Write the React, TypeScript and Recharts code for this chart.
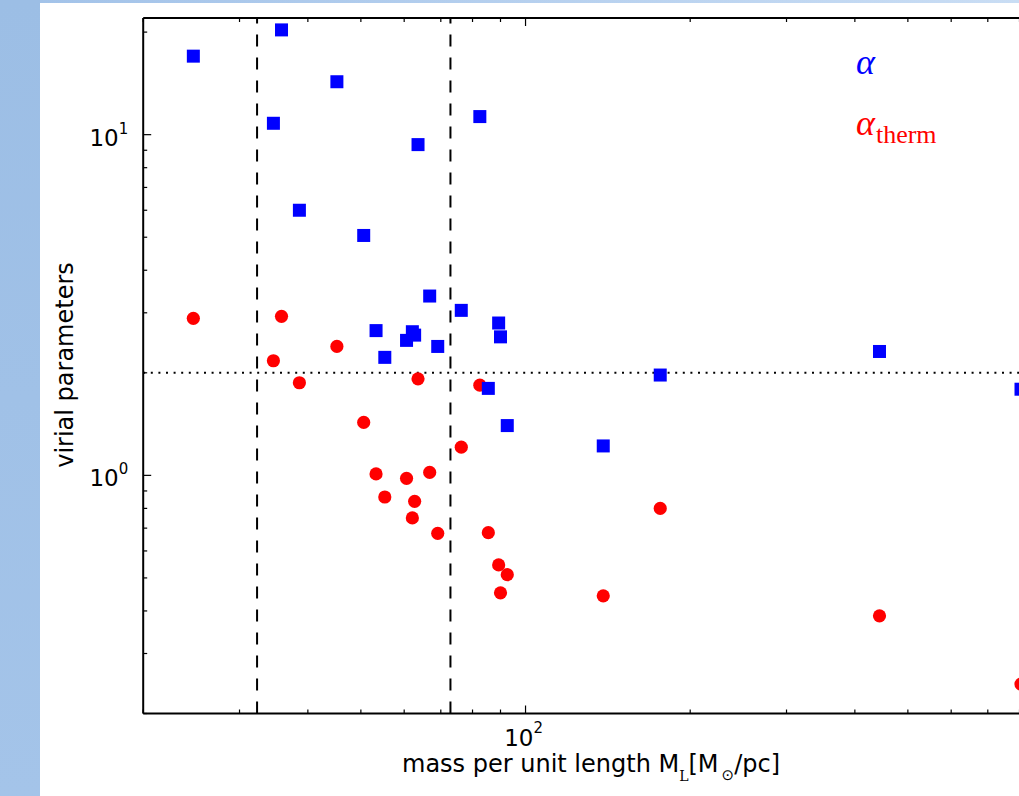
import { ScatterChart, Scatter, XAxis, YAxis, ReferenceLine } from 'recharts';

// mass per unit length M_L [Msun/pc] for each filament
const massPerLength = [24.7, 35.8, 34.6, 45.2, 38.6, 50.6, 63.6, 82.5, 66.8, 76.3, 53.3, 62.1, 62.7, 60.6, 69.1, 55.3, 89.3, 90.0, 85.5, 92.6, 138.7, 176.3, 443.7, 805];
// virial parameter alpha
const alphaVir = [17.0, 20.3, 10.8, 14.3, 6.0, 5.06, 9.35, 11.3, 3.36, 3.05, 2.66, 2.64, 2.58, 2.49, 2.39, 2.22, 2.8, 2.55, 1.8, 1.4, 1.22, 1.97, 2.31, 1.79];
// thermal virial parameter alpha_therm
const alphaTherm = [2.89, 2.93, 2.17, 2.39, 1.87, 1.43, 1.92, 1.84, 1.02, 1.21, 1.01, 0.75, 0.839, 0.98, 0.676, 0.864, 0.546, 0.452, 0.679, 0.511, 0.443, 0.8, 0.387, 0.244];

const xTicks = [20, 30, 40, 50, 60, 70, 80, 90, 100, 200, 300, 400, 500, 600, 700, 800, 900, 1000];
const yTicks = [0.2, 0.3, 0.4, 0.5, 0.6, 0.7, 0.8, 0.9, 1, 2, 3, 4, 5, 6, 7, 8, 9, 10, 20];
const xMajor = [100];
const yMajor = [1, 10];

const X_DOMAIN = [20, 1000];
const Y_DOMAIN = [0.2, 22];
const LINE_LOW = 32.3;
const LINE_HIGH = 72.9;
const ALPHA_CRIT = 2;

const PLOT_LEFT = 143.2;
const PLOT_TOP = 18;
const PLOT_BOTTOM = 713.5;
const CHART_H = 796;
const DECADE_PX = 547;
const plotWidth = DECADE_PX * Math.log10(X_DOMAIN[1] / X_DOMAIN[0]);
const CHART_W = PLOT_LEFT + plotWidth + 20;

const FONT = '"DejaVu Sans", sans-serif';
const SERIF = '"Liberation Serif", serif';

const alphaData = massPerLength.map((m, i) => ({ x: m, y: alphaVir[i] }));
const thermData = massPerLength.map((m, i) => ({ x: m, y: alphaTherm[i] }));

const exponent = (v: number) => Math.round(Math.log10(v));

const XTick = (props: any) => {
  const { x, y, payload } = props;
  const major = xMajor.includes(payload.value);
  const len = major ? 8 : 4;
  const top = y - (PLOT_BOTTOM - PLOT_TOP);
  return (
    <g>
      <line x1={x} x2={x} y1={y} y2={y - len} stroke="#000" strokeWidth={1.2} />
      <line x1={x} x2={x} y1={top} y2={top + len} stroke="#000" strokeWidth={1.2} />
      {major && (
        <text x={x - 2} y={y + 33} textAnchor="middle" fontFamily={FONT} fontSize={23} fill="#000">
          10<tspan dy={-13} fontSize={15}>{exponent(payload.value)}</tspan>
        </text>
      )}
    </g>
  );
};

const YTick = (props: any) => {
  const { x, y, payload } = props;
  const major = yMajor.includes(payload.value);
  const len = major ? 8 : 4;
  return (
    <g>
      <line x1={x} x2={x + len} y1={y} y2={y} stroke="#000" strokeWidth={1.2} />
      {major && (
        <text x={x - 15} y={y + 11} textAnchor="end" fontFamily={FONT} fontSize={23} fill="#000">
          10<tspan dy={-12} fontSize={15}>{exponent(payload.value)}</tspan>
        </text>
      )}
    </g>
  );
};

const BlueSquare = (props: any) => (
  <rect x={props.cx - 6.5} y={props.cy - 6.5} width={13} height={13} fill="#0000ff" />
);

const RedCircle = (props: any) => <circle cx={props.cx} cy={props.cy} r={6.6} fill="#ff0000" />;

export default function App() {
  return (
    <div style={{ position: 'fixed', inset: 0, background: '#fff', overflow: 'hidden' }}>
      <div style={{ position: 'absolute', left: 0, top: 0, width: 40, height: 796, background: 'linear-gradient(180deg, #9cbee5, #a4c4e9)' }} />
      <div style={{ position: 'absolute', left: 40, top: 0, width: 979, height: 3, background: 'linear-gradient(90deg, #a3c3e9, #c9ddf4)' }} />
      <div style={{ position: 'absolute', left: 0, top: 0 }}>
        <ScatterChart width={CHART_W} height={CHART_H} margin={{ top: PLOT_TOP, right: 20, bottom: 0, left: 0 }}>
          <XAxis
            dataKey="x"
            type="number"
            scale="log"
            domain={X_DOMAIN}
            ticks={xTicks}
            interval={0}
            allowDataOverflow
            height={CHART_H - PLOT_BOTTOM}
            tickSize={0}
            tickMargin={0}
            tickLine={false}
            tick={<XTick />}
            axisLine={{ stroke: '#000', strokeWidth: 2 }}
          />
          <YAxis
            dataKey="y"
            type="number"
            scale="log"
            domain={Y_DOMAIN}
            ticks={yTicks}
            interval={0}
            allowDataOverflow
            width={PLOT_LEFT}
            tickSize={0}
            tickMargin={0}
            tickLine={false}
            tick={<YTick />}
            axisLine={{ stroke: '#000', strokeWidth: 2 }}
          />
          <Scatter data={thermData} shape={<RedCircle />} isAnimationActive={false} />
          <Scatter data={alphaData} shape={<BlueSquare />} isAnimationActive={false} />
          <ReferenceLine x={LINE_LOW} stroke="#000" strokeWidth={2} strokeDasharray="12 11" />
          <ReferenceLine x={LINE_HIGH} stroke="#000" strokeWidth={2} strokeDasharray="12 11" />
          <ReferenceLine y={ALPHA_CRIT} stroke="#000" strokeWidth={2} strokeDasharray="2 5.6" />
          <ReferenceLine y={Y_DOMAIN[1]} stroke="#000" strokeWidth={2} ifOverflow="visible" />
          <ReferenceLine x={X_DOMAIN[1]} stroke="#000" strokeWidth={2} ifOverflow="visible" />
        </ScatterChart>
      </div>
      <svg width={1019} height={796} style={{ position: 'absolute', left: 0, top: 0, pointerEvents: 'none' }}>
        <text x={402} y={772} fontFamily={FONT} fontSize={24} fill="#000">
          mass per unit length M
          <tspan dy={9} fontSize={14} fontFamily='"DejaVu Serif", serif'>L</tspan>
          <tspan dy={-9}>[M</tspan>
          <tspan dx={3} dy={8} fontSize={15}>⊙</tspan>
          <tspan dy={-8}>/pc]</tspan>
        </text>
        <text transform="translate(73,365) rotate(-90)" textAnchor="middle" fontFamily={FONT} fontSize={24} fill="#000">
          virial parameters
        </text>
        <text x={856} y={74} fontFamily={SERIF} fontStyle="italic" fontSize={36} fill="#0000ff">
          α
        </text>
        <text x={856} y={135} fontFamily={SERIF} fill="#ff0000">
          <tspan fontStyle="italic" fontSize={36}>α</tspan>
          <tspan dx={1} dy={8} fontSize={26}>therm</tspan>
        </text>
      </svg>
    </div>
  );
}
